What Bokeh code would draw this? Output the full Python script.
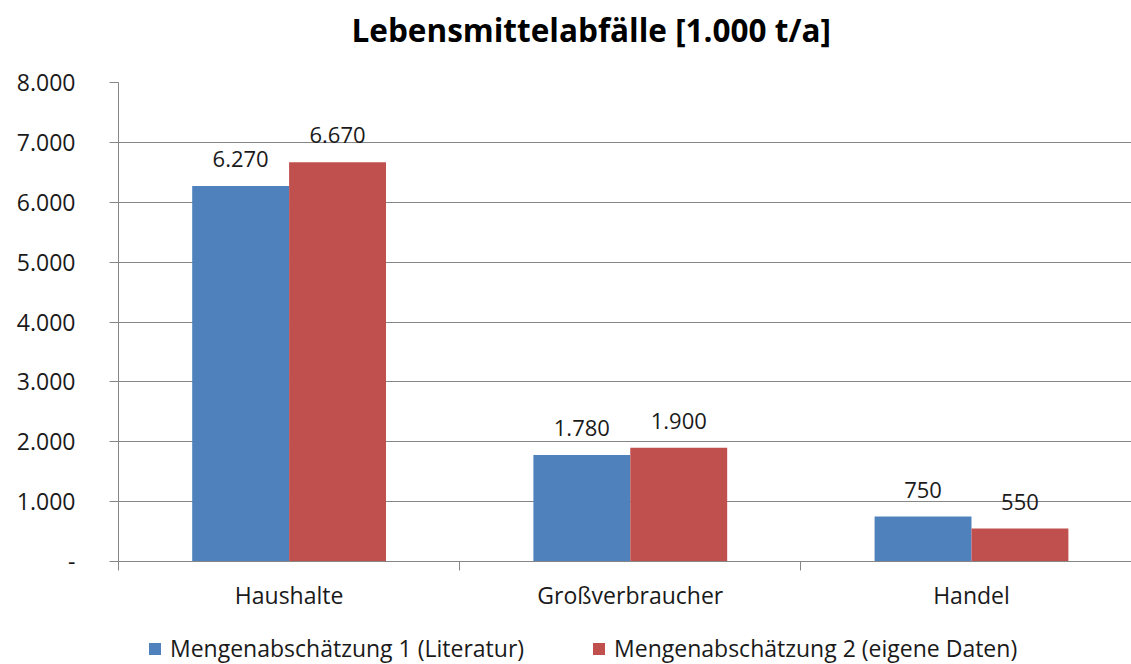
from bokeh.plotting import figure
from bokeh.layouts import column
from bokeh.models import (ColumnDataSource, FixedTicker, Range1d, LabelSet,
                          Legend, LegendItem, Title)
from bokeh.core.properties import value
from bokeh.embed import file_html
from bokeh.resources import INLINE

categories = ["Haushalte", "Großverbraucher", "Handel"]
series1_name = "Mengenabschätzung 1 (Literatur)"
series2_name = "Mengenabschätzung 2 (eigene Daten)"
series1 = [6270, 1780, 750]
series2 = [6670, 1900, 550]
y_ticks = [0, 1000, 2000, 3000, 4000, 5000, 6000, 7000, 8000]
y_tick_labels = ["-", "1.000", "2.000", "3.000", "4.000", "5.000", "6.000", "7.000", "8.000"]
title_text = "Lebensmittelabfälle [1.000 t/a]"

FONT = "Open Sans"
BLUE = "#4F81BD"
RED = "#C0504D"
GRID = "#868686"
TXT = "#1a1a1a"
BAR_W = 0.284
W = 1131


def fmt(v):
    return f"{v:,}".replace(",", ".")


def strip(height, border_top=0):
    f = figure(width=W, height=height, output_backend="svg", toolbar_location=None,
               x_range=Range1d(0, 1), y_range=Range1d(0, 1),
               min_border_left=118, min_border_right=0, min_border_top=border_top,
               min_border_bottom=0)
    f.axis.visible = False
    f.grid.visible = False
    f.outline_line_color = None
    f.border_fill_color = "white"
    f.background_fill_color = "white"
    return f


# title strip
tf = strip(60, border_top=58)
tf.title = Title(text=title_text, align="left", offset=233, standoff=12,
                 vertical_align="top",
                 text_font=FONT, text_font_size="31.5px", text_font_style="bold",
                 text_color="black")

centers = [i + 0.5 for i in range(len(categories))]
src1 = ColumnDataSource(dict(x=[c - BAR_W / 2 for c in centers], top=series1,
                             lab=[fmt(v) for v in series1]))
src2 = ColumnDataSource(dict(x=[c + BAR_W / 2 for c in centers], top=series2,
                             lab=[fmt(v) for v in series2]))

p = figure(width=W, height=560, output_backend="svg", toolbar_location=None,
           x_range=Range1d(0, 2.969), y_range=Range1d(0, 8000),
           min_border_left=118, min_border_right=0, min_border_top=22,
           min_border_bottom=59)
p.outline_line_color = None
p.background_fill_color = "white"
p.border_fill_color = "white"

r1 = p.vbar(x="x", top="top", width=BAR_W, bottom=0, source=src1,
            fill_color=BLUE, line_color=None)
r2 = p.vbar(x="x", top="top", width=BAR_W, bottom=0, source=src2,
            fill_color=RED, line_color=None)

for src in (src1, src2):
    p.add_layout(LabelSet(x="x", y="top", text="lab", source=src, y_offset=19,
                          text_align="center", text_baseline="alphabetic",
                          text_font=value(FONT), text_font_size=value("22px"),
                          text_color=TXT))

# x axis
p.xaxis.ticker = FixedTicker(ticks=centers, minor_ticks=list(range(len(categories) + 1)))
p.xaxis.major_label_overrides = {c: n for c, n in zip(centers, categories)}
p.xaxis.major_tick_out = 0
p.xaxis.major_tick_in = 0
p.xaxis.minor_tick_out = 9
p.xaxis.minor_tick_in = 0
p.xaxis.minor_tick_line_color = GRID
p.xaxis.axis_line_color = GRID
p.xaxis.major_label_standoff = 8
p.xaxis.major_label_text_font = FONT
p.xaxis.major_label_text_font_size = "23px"
p.xaxis.major_label_text_color = TXT

# y axis
p.yaxis.ticker = FixedTicker(ticks=y_ticks, minor_ticks=[])
p.yaxis.major_label_overrides = {t: l for t, l in zip(y_ticks, y_tick_labels)}
p.yaxis.major_tick_out = 9
p.yaxis.major_tick_in = 0
p.yaxis.major_tick_line_color = GRID
p.yaxis.axis_line_color = GRID
p.yaxis.major_label_standoff = 34
p.yaxis.major_label_text_font = FONT
p.yaxis.major_label_text_font_size = "23px"
p.yaxis.major_label_text_color = TXT

p.xgrid.grid_line_color = None
p.ygrid.grid_line_color = GRID
p.ygrid.grid_line_width = 1

# legend strip below the chart
lg = strip(44)
l1 = lg.vbar(x="x", top="top", width=0.1, source=ColumnDataSource(dict(x=[-5], top=[0])),
             fill_color=BLUE, line_color=None)
l2 = lg.vbar(x="x", top="top", width=0.1, source=ColumnDataSource(dict(x=[-5], top=[0])),
             fill_color=RED, line_color=None)

legend = Legend(items=[LegendItem(label=series1_name, renderers=[l1]),
                       LegendItem(label=series2_name, renderers=[l2])],
                orientation="horizontal", location=(29, 0), padding=0, margin=0,
                spacing=67, glyph_width=15, glyph_height=15, label_standoff=8,
                label_text_font=FONT, label_text_font_size="23px",
                label_text_color=TXT, border_line_color=None,
                background_fill_alpha=0)
lg.add_layout(legend, "center")

layout = column(tf, p, lg, spacing=0)
open("out.html", "w").write(file_html(layout, INLINE))
